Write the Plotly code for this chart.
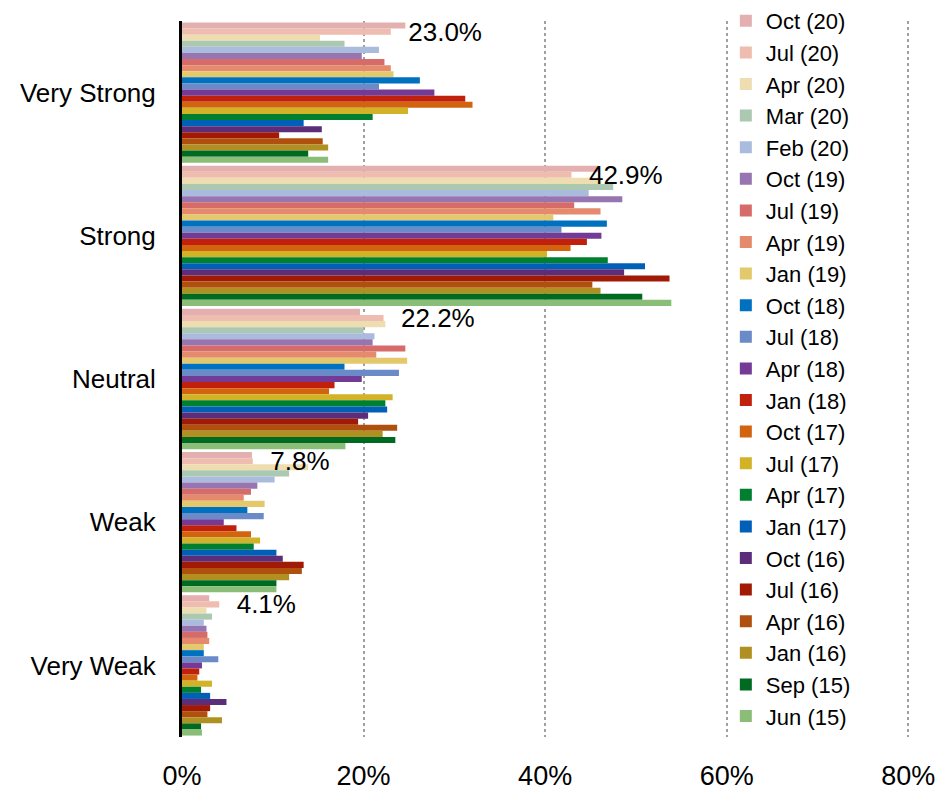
import plotly.graph_objects as go

categories = ["Very Strong", "Strong", "Neutral", "Weak", "Very Weak"]

tick_values = [0, 20, 40, 60, 80]
tick_labels = ["0%", "20%", "40%", "60%", "80%"]

series_names = ["Oct (20)", "Jul (20)", "Apr (20)", "Mar (20)", "Feb (20)", "Oct (19)",
                "Jul (19)", "Apr (19)", "Jan (19)", "Oct (18)", "Jul (18)", "Apr (18)",
                "Jan (18)", "Oct (17)", "Jul (17)", "Apr (17)", "Jan (17)", "Oct (16)",
                "Jul (16)", "Apr (16)", "Jan (16)", "Sep (15)", "Jun (15)"]

series_colors = ["#E3AFAF", "#EFBCB0", "#EEDDB0", "#ABC8B0", "#ABBBDD", "#9775B0",
                 "#D56C6A", "#E58A6C", "#E3C86C", "#0070C0", "#6A8AC8", "#733A96",
                 "#C0200C", "#D26410", "#D2B227", "#00802E", "#0060B8", "#5C2E7A",
                 "#A01A05", "#B0500F", "#B09020", "#006A20", "#8ABE78"]

# values (%) per series, in category order: Very Strong, Strong, Neutral, Weak, Very Weak
oct_20 = [24.6, 45.9, 19.6, 7.7, 3.0]
jul_20 = [23.0, 42.9, 22.2, 7.8, 4.1]
apr_20 = [15.2, 46.2, 22.4, 13.9, 2.7]
mar_20 = [17.9, 47.5, 20.0, 11.8, 3.3]
feb_20 = [21.7, 44.8, 21.2, 10.2, 2.4]
oct_19 = [19.8, 48.5, 21.0, 8.3, 2.7]
jul_19 = [22.3, 43.2, 24.6, 7.6, 2.8]
apr_19 = [23.0, 46.1, 21.4, 6.8, 3.0]
jan_19 = [23.3, 40.9, 24.8, 9.1, 2.4]
oct_18 = [26.2, 46.8, 17.9, 7.2, 2.4]
jul_18 = [21.7, 41.8, 23.9, 9.0, 4.0]
apr_18 = [27.8, 46.2, 19.8, 4.6, 2.2]
jan_18 = [31.2, 44.6, 16.8, 6.0, 1.9]
oct_17 = [32.0, 42.8, 16.2, 7.6, 1.7]
jul_17 = [24.9, 40.2, 23.2, 8.6, 3.3]
apr_17 = [21.0, 46.9, 22.4, 7.9, 2.1]
jan_17 = [13.4, 51.0, 22.6, 10.4, 3.1]
oct_16 = [15.4, 48.7, 20.5, 11.1, 4.9]
jul_16 = [10.7, 53.7, 19.4, 13.4, 3.1]
apr_16 = [15.5, 45.2, 23.7, 13.2, 2.8]
jan_16 = [16.1, 46.1, 22.1, 11.8, 4.4]
sep_15 = [13.9, 50.7, 23.5, 10.4, 2.1]
jun_15 = [16.1, 53.9, 18.0, 10.4, 2.2]

series_values = [oct_20, jul_20, apr_20, mar_20, feb_20, oct_19, jul_19, apr_19, jan_19,
                 oct_18, jul_18, apr_18, jan_18, oct_17, jul_17, apr_17, jan_17, oct_16,
                 jul_16, apr_16, jan_16, sep_15, jun_15]

# labelled series (latest reading shown as text)
label_series = "Jul (20)"
label_values = jul_20

FONT = "Liberation Sans, Arial, sans-serif"

fig = go.Figure()
for name, color, vals in zip(series_names, series_colors, series_values):
    fig.add_trace(go.Bar(
        y=categories, x=vals, name=name, orientation="h",
        marker=dict(color=color, line=dict(width=0)),
        offsetgroup=name, hoverinfo="x+name",
    ))

# text labels on top of all bars, aligned with the labelled series' bars
fig.add_trace(go.Bar(
    y=categories, x=label_values, orientation="h", offsetgroup=label_series,
    marker=dict(color="rgba(0,0,0,0)", line=dict(width=0)),
    text=["\u00a0\u00a0" + f"{v:.1f}%" for v in label_values],
    textposition="outside", constraintext="none", cliponaxis=False,
    textfont=dict(family=FONT, size=26, color="black"),
    showlegend=False, hoverinfo="skip",
))

fig.update_layout(
    width=945, height=791,
    paper_bgcolor="white", plot_bgcolor="white",
    barmode="group", bargap=0.02, bargroupgap=0,
    margin=dict(l=182, r=34, t=21, b=54, autoexpand=False),
    font=dict(family=FONT, size=26, color="black"),
    showlegend=True,
    legend=dict(
        x=0.746, xanchor="left", yref="container", y=1.003, yanchor="top",
        font=dict(family=FONT, size=22, color="black"),
        bgcolor="rgba(255,255,255,0)", traceorder="normal",
        maxheight=1.0,
    ),
    xaxis=dict(
        range=[0, 80.3], tickmode="array", tickvals=tick_values, ticktext=tick_labels,
        showgrid=True, gridcolor="#A0A0A0", griddash="dot", gridwidth=2,
        zeroline=False, showline=False, ticks="",
        tickfont=dict(family=FONT, size=27), ticklabelstandoff=20,
    ),
    yaxis=dict(
        autorange="reversed", showline=True, linecolor="black", linewidth=3,
        showgrid=False, zeroline=False, ticks="",
        tickfont=dict(family=FONT, size=26), ticklabelstandoff=18,
    ),
)

fig.write_html("out.html", config={"displayModeBar": False},
               post_script="document.body.style.margin='0';")
